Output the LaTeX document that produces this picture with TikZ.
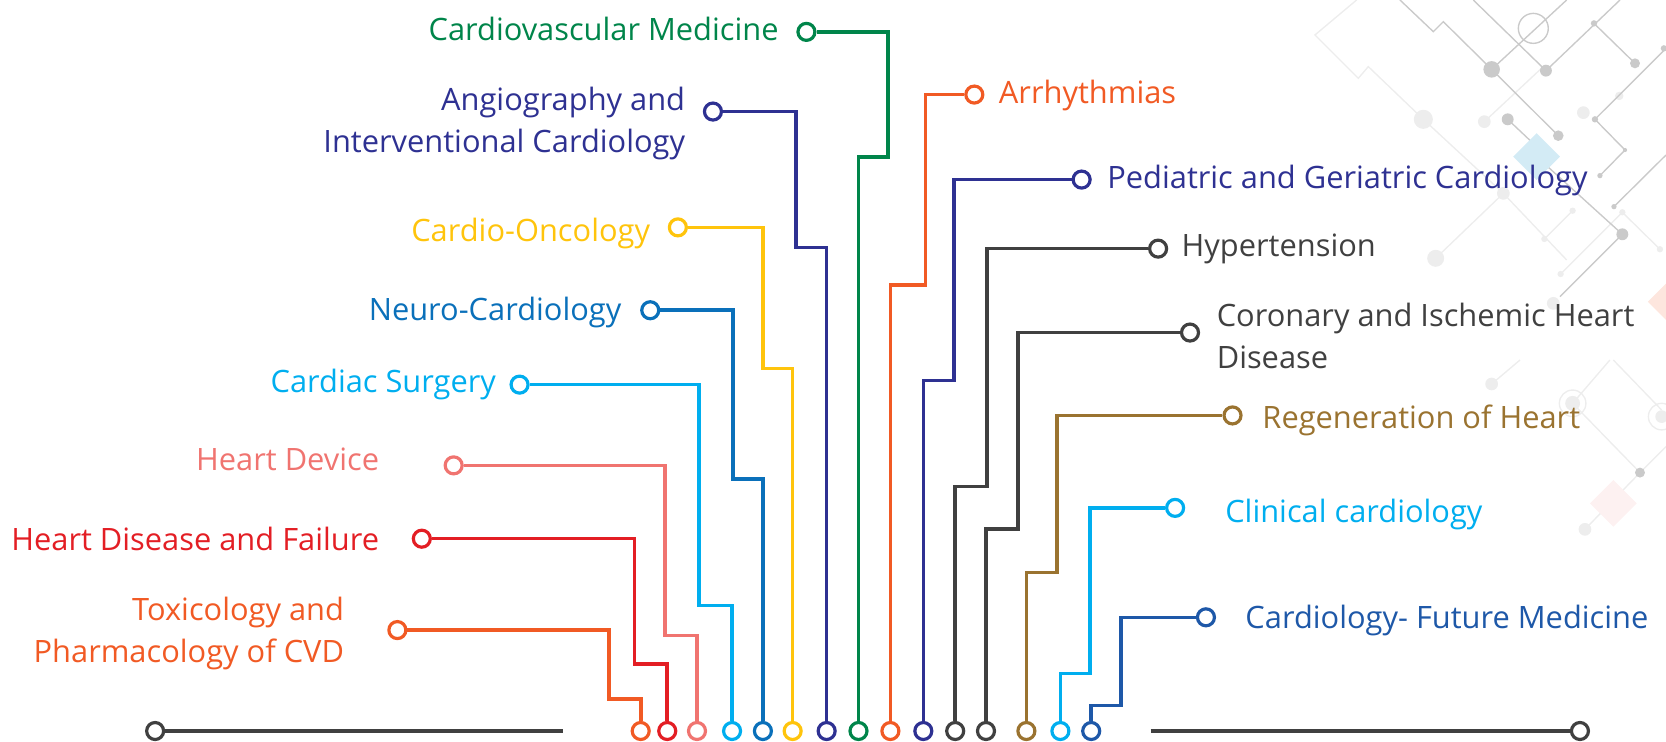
\documentclass[tikz,border=0pt]{standalone}
\usepackage{fontspec}
\setmainfont{Open Sans}
\usepackage{xcolor}
\usepackage{tikz}
\usetikzlibrary{positioning}

\definecolor{cvOrange}{HTML}{F15A24}
\definecolor{cvRed}{HTML}{E31E24}
\definecolor{cvSalmon}{HTML}{F07470}
\definecolor{cvSky}{HTML}{00AEEF}
\definecolor{cvBlue}{HTML}{0A70BA}
\definecolor{cvYellow}{HTML}{FFC40C}
\definecolor{cvIndigo}{HTML}{2E3192}
\definecolor{cvGreen}{HTML}{00854A}
\definecolor{cvGray}{HTML}{404040}
\definecolor{cvBrown}{HTML}{9A7330}
\definecolor{cvFuture}{HTML}{1E58A8}
\definecolor{decoMid}{HTML}{CACACA}
\definecolor{decoLight}{HTML}{EDEDED}
\definecolor{decoIce}{HTML}{D3EBF5}

\tikzset{
  track/.style={line width=3.4pt},
  pin/.style={circle, draw, fill=white, line width=3pt, minimum size=16pt, inner sep=0pt},
  topic/.style={font=\fontsize{29}{40}\selectfont, inner sep=0pt},
  wire/.style={line width=1.3pt, draw=decoMid},
  faint/.style={line width=1.3pt, draw=decoLight},
}

\begin{document}
\begin{tikzpicture}[x=1pt, y=-1pt]
  \useasboundingbox (0,0) rectangle (1568,698);

  % background circuit, top right
  \draw[faint] (1276.8,0) -- (1237.6,32.9) -- (1278.4,73.7) -- (1287.8,62.7) -- (1339.6,112.3) -- (1414.9,182) -- (1474.5,244.7);
  \draw[faint] (1397,114.5) -- (1452.5,62.7);
  \draw[faint] (1351.2,243.1) -- (1414.9,182);
  \draw[faint] (1453.5,224.9) -- (1480.1,198.3);
  \draw[faint] (1468.8,257.9) -- (1526.9,199.8) -- (1562.3,234.6);
  \draw[faint] (1403.9,361.4) -- (1430.6,338.8);
  \draw[faint] (1480.1,379.6) -- (1515.2,338.8);
  \draw[faint] (1518.4,338.8) -- (1563.9,385.9);
  \draw[faint] (1480.1,379.6) -- (1543.5,444.8) -- (1568,420.4);
  \draw[faint] (1543.5,444.8) -- (1491.7,498.2);
  \foreach \cx/\cy/\r in {1339.6/112.3/9, 1397/114.5/6, 1490.2/106/6, 1524/90.3/4,
      1414.9/182/6, 1351.2/243.1/8, 1453.5/224.9/3, 1468.8/257.9/3, 1480.1/198.3/3,
      1526.9/199.8/3, 1562.3/234.6/3, 1461.9/285.5/6, 1403.9/361.4/6, 1491.7/498.2/6}
    \fill[decoLight] (\cx,\cy) circle (\r);
  \fill[decoLight] (1480.1,379.6) circle (7);
  \draw[faint] (1480.1,379.6) circle (12.5);
  \draw[faint] (1563.9,392.1) circle (12.5);
  \fill[decoLight] (1563.9,392.1) circle (6);

  \draw[wire] (1317.6,0) -- (1349,29.8) -- (1358.4,20.4) -- (1403.9,65.3) -- (1466.6,127.7);
  \draw[wire] (1403.9,65.3) -- (1474.5,0);
  \draw[wire] (1386.6,0) -- (1455,66.5) -- (1524.7,0);
  \draw[wire] (1500.2,22) -- (1538.8,59.6);
  \draw[wire] (1419,112.3) -- (1446.2,138);
  \draw[wire] (1568,45.5) -- (1501.1,112.3) -- (1529.4,141.2) -- (1505.8,165.3);
  \draw[wire] (1519,194.5) -- (1568,145.9);
  \draw[wire] (1446.2,147.4) -- (1526.9,220.5) -- (1468.2,279.2);
  \draw[wire] (1443.1,26.7) circle (14.1);
  \foreach \cx/\cy/\r in {1403.9/65.3/7.8, 1455/66.5/5.6, 1538.8/59.6/4.7, 1500.2/22/3,
      1419/112.3/5.6, 1466.6/127.7/5, 1501.1/112.3/3, 1529.4/141.2/2, 1505.8/165.3/2.5,
      1519/194.5/2.5, 1526.9/220.5/5.6, 1566/45.5/3, 1543.5/444.8/4.7}
    \fill[decoMid] (\cx,\cy) circle (\r);
  \fill[decoIce] (1446.2,125.4) -- (1468.2,147.4) -- (1446.2,169.4) -- (1424.2,147.4) -- cycle;
  \fill[cvOrange!15] (1568,267) -- (1585,284) -- (1568,301) -- (1551,284) -- cycle;
  \fill[cvSalmon!10] (1518.4,451.7) -- (1540.4,473.7) -- (1518.4,495.7) -- (1496.4,473.7) -- cycle;

  % base line
  \node[pin, draw=cvGray] (baseL) at (146,688) {};
  \node[pin, draw=cvGray] (baseR) at (1487,688) {};
  \coordinate (baseLend) at (530,688);
  \coordinate (baseRend) at (1083,688);
  \draw[track, cvGray] (baseL) -- (baseLend);
  \draw[track, cvGray] (baseRend) -- (baseR);

  % topics on the left
  \foreach \nm/\col/\bx/\by/\mx/\ty/\tx/\lx/\ly/\txt in {
      tox/cvOrange/603/658/573/593/374/324/596/{Toxicology and\\Pharmacology of CVD},
      hdf/cvRed/628/625/597/507/397/357/507/{Heart Disease and Failure},
      hdev/cvSalmon/656/598/626/438/427/357/432/{Heart Device},
      surg/cvSky/689/570/658/362/489/467/362/{Cardiac Surgery},
      neuro/cvBlue/718/451/690/292/612/585/294/{Neuro-Cardiology},
      onco/cvYellow/746/347/718/214/638/612/220/{Cardio-Oncology},
      angio/cvIndigo/778/233/749/105/671/645/116/{Angiography and\\Interventional Cardiology},
      cvm/cvGreen/808/148/836/30/759/733/27/{Cardiovascular Medicine}}{
    \node[pin, draw=\col] (\nm b) at (\bx,688) {};
    \node[pin, draw=\col] (\nm) at (\tx,\ty) {};
    \draw[track, \col] (\nm b) |- (\mx,\by) |- (\nm);
    \node[topic, text=\col, anchor=east, align=right] (\nm lbl) at (\lx,\ly) {\txt};
  }

  % topics on the right
  \foreach \nm/\col/\bx/\by/\mx/\ty/\tx/\lx/\ly/\txt in {
      arr/cvOrange/838/268/871/89/917/940/90/{Arrhythmias},
      ped/cvIndigo/869/358/898/169/1018/1042/170/{Pediatric and Geriatric Cardiology},
      hyp/cvGray/899/458/929/234/1090/1112/234/{Hypertension},
      cor/cvGray/928/498/958/313/1120/1145/316/{Coronary and Ischemic Heart\\Disease},
      regen/cvBrown/966/539/995/391/1160/1188/396/{Regeneration of Heart},
      clin/cvSky/998/634/1026/478/1106/1153/484/{Clinical cardiology},
      fut/cvFuture/1027/664/1055/581/1135/1172/584/{Cardiology- Future Medicine}}{
    \node[pin, draw=\col] (\nm b) at (\bx,688) {};
    \node[pin, draw=\col] (\nm) at (\tx,\ty) {};
    \draw[track, \col] (\nm b) |- (\mx,\by) |- (\nm);
    \node[topic, text=\col, anchor=west, align=left] (\nm lbl) at (\lx,\ly) {\txt};
  }
\end{tikzpicture}
\end{document}
